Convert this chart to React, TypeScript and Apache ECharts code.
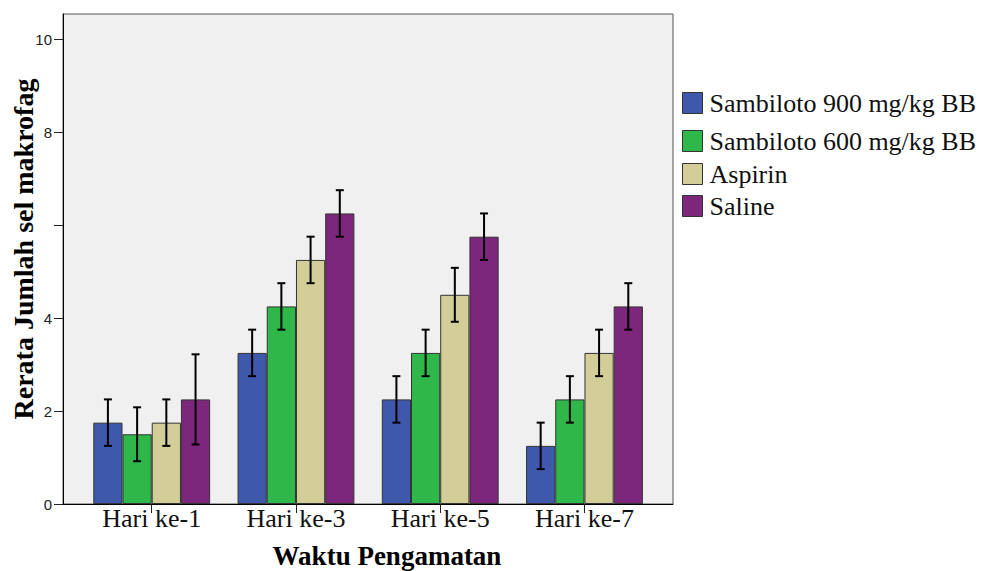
import React, { useEffect, useRef } from "react";
import * as echarts from "echarts";

const categories = ["Hari ke-1", "Hari ke-3", "Hari ke-5", "Hari ke-7"];
const seriesNames = ["Sambiloto 900 mg/kg BB", "Sambiloto 600 mg/kg BB", "Aspirin", "Saline"];
const sambiloto900 = [1.75, 3.25, 2.25, 1.25];
const sambiloto600 = [1.5, 4.25, 3.25, 2.25];
const aspirin = [1.75, 5.25, 4.5, 3.25];
const saline = [2.25, 6.25, 5.75, 4.25];
const err900 = [0.5, 0.5, 0.5, 0.5];
const err600 = [0.58, 0.5, 0.5, 0.5];
const errAspirin = [0.5, 0.5, 0.58, 0.5];
const errSaline = [0.97, 0.5, 0.5, 0.5];
const yTickValues = [0, 2, 4, 6, 8, 10];
const yLabelValues = [0, 2, 4, 8, 10];
const colors = ["#3e58ac", "#2fb849", "#d3ce98", "#7c277c"];
const xTitle = "Waktu Pengamatan";
const yTitle = "Rerata Jumlah sel makrofag";

const GAP = 0.19;

export default function App() {
  const ref = useRef<HTMLDivElement>(null);
  useEffect(() => {
    if (!ref.current) return;
    const chart = echarts.init(ref.current, undefined, { renderer: "svg" });
    const means = [sambiloto900, sambiloto600, aspirin, saline];
    const errs = [err900, err600, errAspirin, errSaline];
    const errData: number[][] = [];
    means.forEach((m, s) => {
      m.forEach((v, c) => {
        errData.push([c, v - errs[s][c], v + errs[s][c], s]);
      });
    });
    const top = 14;
    const height = 490;
    const yMax = 10.54;
    const option: any = {
      animation: false,
      backgroundColor: "#ffffff",
      grid: [
        {
          left: 63, top, width: 610, height,
          show: true, backgroundColor: "#f0f0f0", borderColor: "#555", borderWidth: 1,
        },
        { left: 79.6, top, width: 577, height },
      ],
      xAxis: [
        {
          gridIndex: 0, type: "value", min: 0, max: 1,
          axisLine: { show: true, lineStyle: { color: "#000", width: 1 } },
          axisTick: { show: false }, axisLabel: { show: false }, splitLine: { show: false },
        },
        {
          gridIndex: 1, type: "category", data: categories,
          axisLine: { show: false },
          axisTick: { show: true, alignWithLabel: true, length: 9, lineStyle: { color: "#222" } },
          axisLabel: {
            fontFamily: "Liberation Serif", fontSize: 26, color: "#111", margin: 1,
          },
        },
      ],
      yAxis: [
        {
          gridIndex: 0, type: "value", min: 0, max: yMax, interval: 2,
          axisLine: { show: true, lineStyle: { color: "#000", width: 1 } },
          axisTick: { show: true, length: 9, lineStyle: { color: "#222" }, customValues: yTickValues },
          axisLabel: {
            fontFamily: "Liberation Sans", fontSize: 15, color: "#222", margin: 11,
            customValues: yLabelValues,
          },
          splitLine: { show: false },
        },
        {
          gridIndex: 1, type: "value", min: 0, max: yMax, interval: 2, show: false,
        },
      ],
      legend: seriesNames.map((n, i) => ({
        data: [n],
        orient: "vertical",
        left: 677,
        top: [85, 123, 156, 188][i],
        icon: "rect",
        itemWidth: 20,
        itemHeight: 21,
        itemStyle: { borderColor: "#333", borderWidth: 1 },
        textStyle: {
          fontFamily: "Liberation Serif", fontSize: 26, color: "#111", lineHeight: 26,
          padding: [0, 0, 0, 2],
        },
      })),
      graphic: [
        {
          type: "text", x: 387, y: 556,
          style: {
            text: xTitle, font: "bold 27px 'Liberation Serif'", fill: "#000",
            align: "center", verticalAlign: "middle",
          },
        },
        {
          type: "text", x: 23, y: 249, rotation: Math.PI / 2,
          style: {
            text: yTitle, font: "bold 28px 'Liberation Serif'", fill: "#000",
            align: "center", verticalAlign: "middle",
          },
        },
      ],
      series: [
        ...seriesNames.map((n, i) => ({
          name: n, type: "bar", xAxisIndex: 1, yAxisIndex: 1,
          data: means[i],
          barGap: "0%", barCategoryGap: GAP * 100 + "%",
          itemStyle: { color: colors[i], borderColor: "#333", borderWidth: 1 },
        })),
        {
          type: "custom", xAxisIndex: 1, yAxisIndex: 1, z: 5,
          data: errData,
          renderItem: (params: any, api: any) => {
            const c = api.value(0);
            const s = api.value(3);
            const lo = api.coord([c, api.value(1)]);
            const hi = api.coord([c, api.value(2)]);
            const band = api.size([1, 0])[0];
            const bw = (band * (1 - GAP)) / 4;
            const x = lo[0] + (s - 1.5) * bw;
            const cap = 4;
            const style = { stroke: "#000", lineWidth: 2 };
            return {
              type: "group",
              children: [
                { type: "line", shape: { x1: x, y1: lo[1], x2: x, y2: hi[1] }, style },
                { type: "line", shape: { x1: x - cap, y1: lo[1], x2: x + cap, y2: lo[1] }, style },
                { type: "line", shape: { x1: x - cap, y1: hi[1], x2: x + cap, y2: hi[1] }, style },
              ],
            };
          },
        },
      ],
    };
    chart.setOption(option);
    return () => chart.dispose();
  }, []);
  return <div ref={ref} style={{ width: 984, height: 571, position: "absolute", left: 0, top: 0 }} />;
}
